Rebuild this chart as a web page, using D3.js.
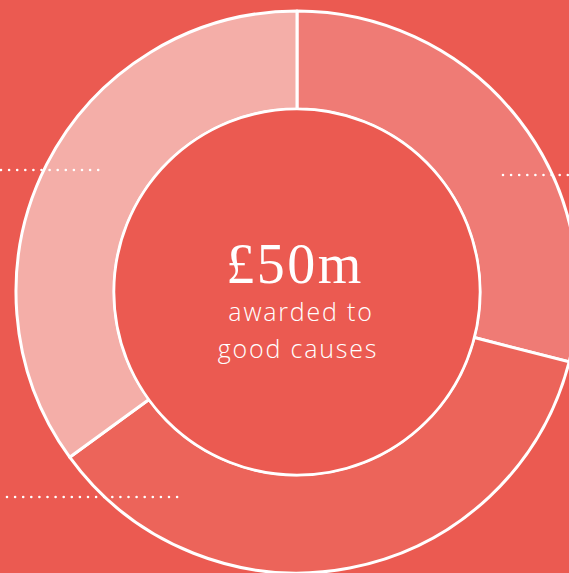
<!DOCTYPE html>
<html>
<head>
<meta charset="utf-8">
<script src="https://cdn.jsdelivr.net/npm/d3@7"></script>
<style>
  html, body { margin: 0; padding: 0; background: #eb5a51; overflow: hidden; }
  svg { display: block; }
</style>
</head>
<body>
<div id="chart"></div>
<script>
// share of awards per segment (clockwise from 12 o'clock)
const segments = ['A', 'B', 'C']
const shares = [29, 36, 35]
const segmentColors = ['#ef7b75', '#ec645a', '#f4aea8']

const headline = '£50m'
const subLines = ['awarded to', 'good causes']

const width = 569
const height = 573
const cx = 297
const cy = 292
const outerR = 281
const innerR = 183
const bg = '#eb5a51'

const svg = d3.select('#chart').append('svg')
    .attr('width', width)
    .attr('height', height)

svg.append('rect')
    .attr('width', width)
    .attr('height', height)
    .attr('fill', bg)

const data = segments.map((s, i) => ({ name: s, value: shares[i] }))

const pie = d3.pie()
    .sort(null)
    .value(d => d.value)

const arc = d3.arc()
    .innerRadius(innerR)
    .outerRadius(outerR)

const g = svg.append('g')
    .attr('transform', `translate(${cx},${cy})`)

g.selectAll('path')
    .data(pie(data))
    .enter()
    .append('path')
    .attr('d', arc)
    .attr('fill', (d, i) => segmentColors[i])
    .attr('stroke', '#fff')
    .attr('stroke-width', 3)
    .attr('stroke-linejoin', 'round')

g.append('circle')
    .attr('r', innerR)
    .attr('fill', bg)
    .attr('stroke', '#fff')
    .attr('stroke-width', 2.5)

// dotted leader lines
const leaders = [
    { x1: 1, x2: 100, y: 170 },
    { x1: 503, x2: 569, y: 175 },
    { x1: 7, x2: 183, y: 497 }
]

svg.selectAll('line.leader')
    .data(leaders)
    .enter()
    .append('line')
    .attr('class', 'leader')
    .attr('x1', d => d.x1)
    .attr('x2', d => d.x2)
    .attr('y1', d => d.y)
    .attr('y2', d => d.y)
    .attr('stroke', '#fff')
    .attr('stroke-width', 2.6)
    .attr('stroke-linecap', 'round')
    .attr('stroke-dasharray', '0 8.1')

g.append('text')
    .attr('x', -2)
    .attr('y', -9)
    .attr('text-anchor', 'middle')
    .attr('fill', '#fff')
    .attr('font-family', '"Liberation Serif", serif')
    .attr('font-size', 56)
    .attr('letter-spacing', 2.5)
    .text(headline)

g.selectAll('text.sub')
    .data(subLines)
    .enter()
    .append('text')
    .attr('class', 'sub')
    .attr('x', (d, i) => i === 0 ? 4 : 1)
    .attr('y', (d, i) => 29 + i * 37)
    .attr('text-anchor', 'middle')
    .attr('fill', '#fff')
    .attr('font-family', '"Open Sans", sans-serif')
    .attr('font-weight', 300)
    .attr('font-size', 25)
    .attr('letter-spacing', 1.8)
    .text(d => d)
</script>
</body>
</html>
